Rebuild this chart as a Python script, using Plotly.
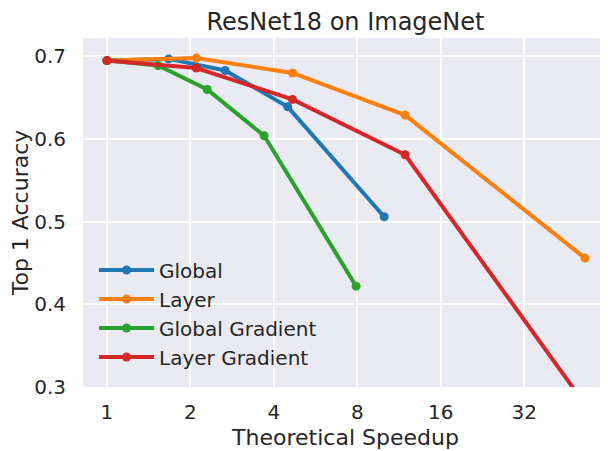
import plotly.graph_objects as go

series_names = ["Global", "Layer", "Global Gradient", "Layer Gradient"]
colors = ["#1f77b4", "#ff7f0e", "#2ca02c", "#d62728"]

global_x = [1, 1.67, 2.67, 4.49, 10.0]
global_y = [0.695, 0.697, 0.683, 0.639, 0.506]

layer_x = [1, 2.1, 4.67, 11.9, 53]
layer_y = [0.695, 0.698, 0.680, 0.629, 0.456]

ggrad_x = [1, 1.53, 2.3, 3.69, 7.92]
ggrad_y = [0.695, 0.689, 0.660, 0.604, 0.422]

lgrad_x = [1, 2.1, 4.67, 11.9, 53]
lgrad_y = [0.695, 0.686, 0.648, 0.581, 0.279]

x_ticks = [1, 2, 4, 8, 16, 32]
x_tick_labels = ["1", "2", "4", "8", "16", "32"]
y_ticks = [0.3, 0.4, 0.5, 0.6, 0.7]
y_tick_labels = ["0.3", "0.4", "0.5", "0.6", "0.7"]

data = [(global_x, global_y), (layer_x, layer_y), (ggrad_x, ggrad_y), (lgrad_x, lgrad_y)]

FONT = "DejaVu Sans"
TXT = "#262626"

# the page body has an 8px margin, so the figure is sized to fit the window
W, H = 600, 443

fig = go.Figure()
for name, color, (xs, ys) in zip(series_names, colors, data):
    fig.add_trace(go.Scatter(
        x=xs, y=ys, name=name, mode="lines+markers",
        line=dict(color=color, width=4),
        marker=dict(color=color, size=9),
        cliponaxis=True,
    ))

fig.update_layout(
    width=W, height=H,
    margin=dict(l=75, r=0, t=30, b=64),
    paper_bgcolor="white",
    plot_bgcolor="#EAEAF2",
    font=dict(family=FONT, color=TXT, size=20),
    title=dict(text="ResNet18 on ImageNet", x=0.5, xref="paper", xanchor="center",
               y=1 - 14 / H, yref="container", yanchor="middle",
               font=dict(size=24, color=TXT, family=FONT)),
    legend=dict(x=0.021, y=0.03, xanchor="left", yanchor="bottom",
                bgcolor="rgba(0,0,0,0)", font=dict(size=20, color=TXT, family=FONT),
                itemwidth=55, tracegroupgap=0),
    showlegend=True,
)
fig.update_xaxes(
    type="log", range=[-0.0864, 1.8074], automargin=False,
    tickvals=x_ticks, ticktext=x_tick_labels,
    showgrid=True, gridcolor="white", gridwidth=2,
    zeroline=False, showline=False,
    ticks="outside", ticklen=7, tickcolor="rgba(0,0,0,0)",
    tickfont=dict(size=20, color=TXT, family=FONT),
    title=dict(text="Theoretical Speedup", font=dict(size=22, color=TXT, family=FONT), standoff=6),
)
fig.update_yaxes(
    range=[0.3, 0.7223], automargin=False,
    tickvals=y_ticks, ticktext=y_tick_labels,
    showgrid=True, gridcolor="white", gridwidth=2,
    zeroline=False, showline=False,
    ticks="outside", ticklen=12, tickcolor="rgba(0,0,0,0)",
    tickfont=dict(size=20, color=TXT, family=FONT),
    title=dict(text="Top 1 Accuracy", font=dict(size=22, color=TXT, family=FONT), standoff=10),
)

fig.write_html("out.html")
